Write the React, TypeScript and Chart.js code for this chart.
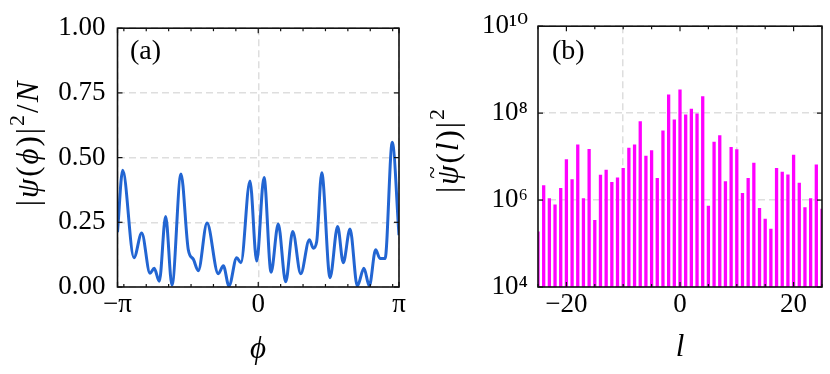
import React, { useEffect, useRef } from "react";
import { Chart, registerables } from "chart.js";
Chart.register(...registerables);

// ---- Panel (a): |psi(phi)|^2 / N versus phi (phi given in units of pi) ----
const phiOverPi = [
  -1.0, -0.963, -0.883, -0.828, -0.769, -0.739, -0.703, -0.658, -0.613, -0.549,
  -0.497, -0.461, -0.426, -0.364, -0.284, -0.248, -0.208, -0.153, -0.123, -0.059,
  -0.011, 0.041, 0.091, 0.142, 0.195, 0.245, 0.302, 0.363, 0.391, 0.415,
  0.451, 0.51, 0.564, 0.604, 0.652, 0.704, 0.751, 0.789, 0.834, 0.865,
  0.901, 0.952, 1.0,
];
const density = [
  0.212, 0.451, 0.113, 0.209, 0.053, 0.072, 0.022, 0.272, 0.007, 0.437,
  0.144, 0.107, 0.063, 0.247, 0.051, 0.082, 0.004, 0.113, 0.094, 0.41,
  0.1, 0.423, 0.057, 0.243, 0.02, 0.214, 0.051, 0.183, 0.15, 0.175,
  0.441, 0.036, 0.234, 0.094, 0.224, 0.004, 0.072, 0.004, 0.144, 0.11,
  0.11, 0.559, 0.2,
];
const aXTickValues = [-Math.PI, 0, Math.PI];
const aXTickLabels = ["\u2212\u03c0", "0", "\u03c0"];
const aYTickValues = [0, 0.25, 0.5, 0.75, 1.0];
const aYTickLabels = ["0.00", "0.25", "0.50", "0.75", "1.00"];

// ---- Panel (b): |psi~(l)|^2 versus l ----
const lValues = [
  -25, -24, -23, -22, -21, -20, -19, -18, -17, -16, -15, -14, -13, -12, -11, -10,
  -9, -8, -7, -6, -5, -4, -3, -2, -1, 0, 1, 2, 3, 4, 5, 6, 7, 8, 9, 10,
  11, 12, 13, 14, 15, 16, 17, 18, 19, 20, 21, 22, 23, 24, 25,
];
const spectrum = [
  1.9e5, 2.2e6, 1.1e6, 7.9e5, 1.9e6, 8.7e6, 3.0e6, 1.9e7, 1.1e6, 1.5e7, 3.5e5,
  3.8e6, 5.0e6, 2.6e6, 3.3e6, 5.5e6, 1.6e7, 1.9e7, 6.5e7, 1.05e7, 1.4e7, 3.2e6,
  4.0e7, 2.7e8, 7.1e7, 3.5e8, 9.3e7, 1.26e8, 9.8e7, 2.45e8, 7.4e5, 2.2e7, 3.1e7,
  2.7e6, 1.66e7, 1.48e7, 1.45e6, 3.2e6, 7.2e6, 6.6e5, 3.7e5, 2.2e5, 5.5e6, 4.5e6,
  3.9e6, 1.1e7, 2.5e6, 6.8e5, 1.1e6, 6.6e6, 6.3e5,
];
const bXTickValues = [-20, 0, 20];
const bXTickLabels = ["\u221220", "0", "20"];
const bYTickValues = [1e4, 1e6, 1e8, 1e10];
const bYTickLabels = ["10\u2074", "10\u2076", "10\u2078", "10\u00b9\u2070"];
const bXMinor = [-25, -15, -10, -5, 5, 10, 15, 25];
const aXMinor = [-3, -2.5, -2, -1.5, -1, -0.5, 0.5, 1, 1.5, 2, 2.5, 3];

const FAM = '"Liberation Serif", "DejaVu Serif", serif';
const BLUE = "#2265d2";
const MAGENTA = "#ff00ff";
const GRID = "#dedede";

type Seg = [string, "n" | "i" | "s" | "t"];

function drawMath(
  ctx: CanvasRenderingContext2D,
  segs: Seg[],
  cx: number,
  cy: number,
  size: number,
  rotate: boolean,
  gap: number
) {
  const fontFor = (k: string) =>
    k === "s"
      ? `${Math.round(size * 0.7)}px ${FAM}`
      : k === "i" || k === "t"
      ? `italic ${size}px ${FAM}`
      : `${size}px ${FAM}`;
  let total = 0;
  const widths = segs.map(([t, k]) => {
    ctx.font = fontFor(k);
    const w = ctx.measureText(t).width + gap;
    total += w;
    return w;
  });
  total -= gap;
  ctx.save();
  ctx.translate(cx, cy);
  if (rotate) ctx.rotate(-Math.PI / 2);
  ctx.fillStyle = "#000";
  ctx.textAlign = "left";
  ctx.textBaseline = "alphabetic";
  let x = -total / 2;
  const base = size * 0.3;
  segs.forEach(([t, k], i) => {
    ctx.font = fontFor(k);
    ctx.fillText(t, x, k === "s" ? base - size * 0.45 : base);
    if (k === "t") {
      ctx.font = `${Math.round(size * 0.75)}px ${FAM}`;
      ctx.textAlign = "center";
      ctx.fillText("~", x + (widths[i] - gap) / 2 + size * 0.08, base - size * 0.58);
      ctx.textAlign = "left";
    }
    x += widths[i];
  });
  ctx.restore();
}

type Decor = {
  xMajor: number[];
  xMinor: number[];
  yMajor: number[];
  label: string;
  labelX: number;
  yTitle: Seg[];
  yTitleX: number;
  yTitleY: number;
  yTitleGap: number;
  xTitle: string;
  xTitleX: number;
  xTitleY: number;
};

function decorPlugin(cfg: Decor) {
  return {
    id: "decor",
    afterDraw(chart: any) {
      const { ctx, chartArea: a, scales } = chart;
      const sx = scales.x;
      const sy = scales.y;
      ctx.save();
      ctx.strokeStyle = "#111";
      ctx.lineWidth = 1.2;
      const seg = (x1: number, y1: number, x2: number, y2: number) => {
        ctx.beginPath();
        ctx.moveTo(x1, y1);
        ctx.lineTo(x2, y2);
        ctx.stroke();
      };
      cfg.xMajor.forEach((v) => {
        const p = sx.getPixelForValue(v);
        seg(p, a.bottom, p, a.bottom - 5);
        seg(p, a.top, p, a.top + 5);
      });
      cfg.xMinor.forEach((v) => {
        const p = sx.getPixelForValue(v);
        seg(p, a.bottom, p, a.bottom - 3);
        seg(p, a.top, p, a.top + 3);
      });
      cfg.yMajor.forEach((v) => {
        const p = sy.getPixelForValue(v);
        seg(a.left, p, a.left + 5, p);
        seg(a.right, p, a.right - 5, p);
      });
      ctx.lineWidth = 1.6;
      ctx.strokeRect(a.left, a.top, a.right - a.left, a.bottom - a.top);
      ctx.fillStyle = "#000";
      ctx.font = `28px ${FAM}`;
      ctx.textAlign = "left";
      ctx.textBaseline = "middle";
      ctx.fillText(cfg.label, cfg.labelX, 52);
      ctx.font = `italic 31px ${FAM}`;
      ctx.textAlign = "center";
      ctx.fillText(cfg.xTitle, cfg.xTitleX, cfg.xTitleY);
      drawMath(ctx, cfg.yTitle, cfg.yTitleX, cfg.yTitleY, 31, true, cfg.yTitleGap);
      ctx.restore();
    },
  };
}

const tickFont = { family: FAM, size: 27 };

export default function App() {
  const leftRef = useRef<HTMLCanvasElement>(null);
  const rightRef = useRef<HTMLCanvasElement>(null);

  useEffect(() => {
    const left = new Chart(leftRef.current as HTMLCanvasElement, {
      type: "line",
      data: {
        datasets: [
          {
            data: phiOverPi.map((p, i) => ({ x: p * Math.PI, y: density[i] })),
            borderColor: BLUE,
            borderWidth: 3,
            pointRadius: 0,
            cubicInterpolationMode: "monotone",
            fill: false,
          },
        ],
      },
      options: {
        responsive: false,
        animation: false,
        devicePixelRatio: 1,
        layout: { padding: { top: 18, right: 16, left: 0, bottom: 0 } },
        plugins: { legend: { display: false }, tooltip: { enabled: false } },
        scales: {
          x: {
            type: "linear",
            min: -Math.PI,
            max: Math.PI,
            afterBuildTicks: (s: any) => {
              s.ticks = aXTickValues.map((v) => ({ value: v }));
            },
            afterFit: (s: any) => {
              s.height = 87;
            },
            ticks: {
              callback: (_v: any, i: number) => aXTickLabels[i],
              font: tickFont,
              color: "#000",
              padding: 2,
              maxRotation: 0,
              autoSkip: false,
            },
            grid: { color: GRID, lineWidth: 1.5, drawTicks: false },
            border: { display: false, dash: [7, 4] },
          },
          y: {
            type: "linear",
            min: 0,
            max: 1,
            afterBuildTicks: (s: any) => {
              s.ticks = aYTickValues.map((v) => ({ value: v }));
            },
            afterFit: (s: any) => {
              s.width = 117.5;
            },
            ticks: {
              callback: (_v: any, i: number) => aYTickLabels[i],
              font: tickFont,
              color: "#000",
              padding: 12,
              autoSkip: false,
            },
            grid: { color: GRID, lineWidth: 1.5, drawTicks: false },
            border: { display: false, dash: [7, 4] },
          },
        },
      } as any,
      plugins: [
        decorPlugin({
          xMajor: aXTickValues,
          xMinor: aXMinor,
          yMajor: aYTickValues,
          label: "(a)",
          labelX: 130,
          yTitle: [
            ["|", "n"],
            ["\u03c8", "i"],
            ["(", "n"],
            ["\u03d5", "i"],
            [")", "n"],
            ["|", "n"],
            ["2", "s"],
            ["/", "n"],
            ["N", "i"],
          ],
          yTitleX: 29,
          yTitleY: 144,
          yTitleGap: 2,
          xTitle: "\u03d5",
          xTitleX: 258,
          xTitleY: 350,
        }),
      ],
    });

    const right = new Chart(rightRef.current as HTMLCanvasElement, {
      type: "bar",
      data: {
        datasets: [
          {
            data: lValues.map((l, i) => ({ x: l, y: spectrum[i] })),
            backgroundColor: MAGENTA,
            borderWidth: 0,
            barPercentage: 0.58,
            categoryPercentage: 1,
          },
        ],
      },
      options: {
        responsive: false,
        animation: false,
        devicePixelRatio: 1,
        layout: { padding: { top: 18, right: 8, left: 0, bottom: 0 } },
        plugins: { legend: { display: false }, tooltip: { enabled: false } },
        scales: {
          x: {
            type: "linear",
            min: -25,
            max: 25,
            offset: false,
            afterBuildTicks: (s: any) => {
              s.ticks = bXTickValues.map((v) => ({ value: v }));
            },
            afterFit: (s: any) => {
              s.height = 87;
            },
            ticks: {
              callback: (_v: any, i: number) => bXTickLabels[i],
              font: tickFont,
              color: "#000",
              padding: 2,
              maxRotation: 0,
              autoSkip: false,
            },
            grid: { color: GRID, lineWidth: 1.5, drawTicks: false },
            border: { display: false, dash: [7, 4] },
          },
          y: {
            type: "logarithmic",
            min: 1e4,
            max: 1e10,
            afterBuildTicks: (s: any) => {
              s.ticks = bYTickValues.map((v) => ({ value: v }));
            },
            afterFit: (s: any) => {
              s.width = 123;
            },
            ticks: {
              callback: (_v: any, i: number) => bYTickLabels[i],
              font: tickFont,
              color: "#000",
              padding: 10,
              autoSkip: false,
            },
            grid: { color: GRID, lineWidth: 1.5, drawTicks: false },
            border: { display: false, dash: [7, 4] },
          },
        },
      } as any,
      plugins: [
        decorPlugin({
          xMajor: bXTickValues,
          xMinor: bXMinor,
          yMajor: bYTickValues,
          label: "(b)",
          labelX: 137,
          yTitle: [
            ["|", "n"],
            ["\u03c8", "t"],
            ["(", "n"],
            ["l", "i"],
            [")", "n"],
            ["|", "n"],
            ["2", "s"],
          ],
          yTitleX: 34,
          yTitleY: 151,
          yTitleGap: 2,
          xTitle: "l",
          xTitleX: 265,
          xTitleY: 348,
        }),
      ],
    });

    return () => {
      left.destroy();
      right.destroy();
    };
  }, []);

  return (
    <div
      style={{
        position: "absolute",
        left: 0,
        top: 0,
        width: 830,
        height: 374,
        background: "#fff",
      }}
    >
      <canvas
        ref={leftRef}
        width={415}
        height={374}
        style={{ position: "absolute", left: 0, top: 0, width: 415, height: 374 }}
      />
      <canvas
        ref={rightRef}
        width={415}
        height={374}
        style={{ position: "absolute", left: 415, top: 0, width: 415, height: 374 }}
      />
    </div>
  );
}
